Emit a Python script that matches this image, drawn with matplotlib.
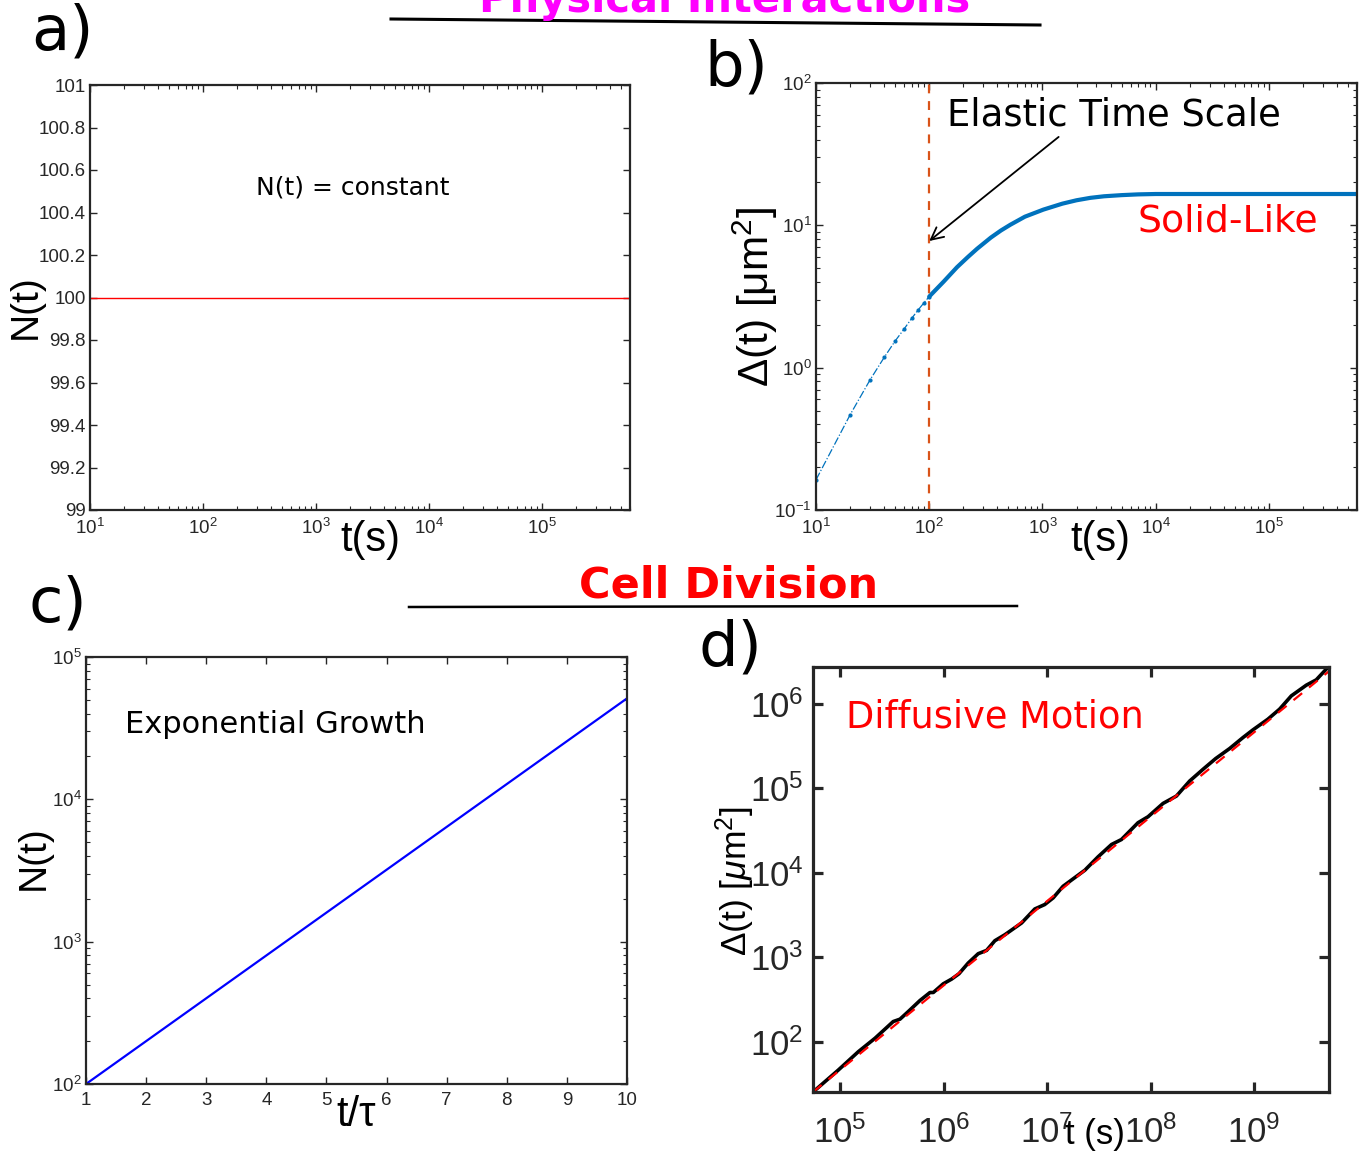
import numpy as np
import matplotlib
matplotlib.use("Agg")
import matplotlib.pyplot as plt
from matplotlib.lines import Line2D
from matplotlib.ticker import FixedLocator, FixedFormatter, NullLocator

plt.rcParams['font.family'] = ['Liberation Sans', 'DejaVu Sans']
plt.rcParams['mathtext.fontset'] = 'custom'
plt.rcParams['mathtext.rm'] = 'Liberation Sans'
plt.rcParams['mathtext.it'] = 'Liberation Sans:italic'
plt.rcParams['mathtext.default'] = 'regular'

# ---------------- data ----------------
# panel a: constant population
t_a = [10, 6e5]
N_a = [100, 100]
a_yticks = [99, 99.2, 99.4, 99.6, 99.8, 100, 100.2, 100.4, 100.6, 100.8, 101]
a_yticklabels = ['99', '99.2', '99.4', '99.6', '99.8', '100', '100.2', '100.4', '100.6', '100.8', '101']

# panel b: MSD, solid-like
t_b = [10, 20, 30, 40, 50, 60, 70, 80, 90, 100, 134, 176, 220, 265, 350, 430, 521,
       700, 1020, 1500, 2000, 2650, 3500, 5000, 7000, 10000, 100000, 600000]
msd_b = [0.163, 0.466, 0.82, 1.18, 1.54, 1.87, 2.22, 2.55, 2.86, 3.16, 4.02, 5.08,
         6.0, 6.85, 8.2, 9.2, 10.1, 11.5, 12.9, 14.2, 15.0, 15.6, 16.0, 16.3, 16.5,
         16.6, 16.6, 16.6]
t_elastic = 100

# panel c: exponential growth
t_c = [1, 2, 3, 4, 5, 6, 7, 8, 9, 10]
N_c = [100, 200, 400, 800, 1600, 3200, 6400, 12800, 25600, 51200]
c_xticks = [1, 2, 3, 4, 5, 6, 7, 8, 9, 10]

# panel d: diffusive MSD (log10 values)
log_t_d = [4.742, 4.984, 5.177, 5.338, 5.514, 5.579, 5.659, 5.772, 5.869, 5.901,
           5.997, 6.078, 6.149, 6.238, 6.335, 6.416, 6.496, 6.593, 6.754, 6.882,
           6.977, 7.059, 7.155, 7.252, 7.365, 7.493, 7.623, 7.719, 7.879, 7.976,
           8.121, 8.250, 8.378, 8.507, 8.629, 8.764, 8.893, 8.989, 9.134, 9.247,
           9.360, 9.505, 9.601, 9.723]
log_msd_d = [1.406, 1.664, 1.881, 2.040, 2.238, 2.266, 2.356, 2.487, 2.582, 2.582,
             2.685, 2.741, 2.804, 2.931, 3.042, 3.081, 3.196, 3.267, 3.406, 3.572,
             3.624, 3.703, 3.841, 3.929, 4.031, 4.190, 4.336, 4.395, 4.594, 4.665,
             4.823, 4.910, 5.088, 5.227, 5.354, 5.473, 5.603, 5.694, 5.821, 5.940,
             6.097, 6.224, 6.287, 6.447]
t_fit_d = [5.48e4, 5.3e9]
msd_fit_d = [25.3, 2.45e6]
d_xticks = [1e5, 1e6, 1e7, 1e8, 1e9]
d_yticks = [1e2, 1e3, 1e4, 1e5, 1e6]

W, H = 1367, 1151
fig = plt.figure(figsize=(W / 100, H / 100), dpi=100)

def rect(l, r, t, b):
    return [l / W, 1 - b / H, (r - l) / W, (b - t) / H]

AX = '#262626'
DV = ['DejaVu Sans']

def style_small(ax):
    for s in ax.spines.values():
        s.set_linewidth(1.6)
        s.set_color(AX)
    ax.tick_params(which='both', direction='in', top=True, right=True, colors=AX,
                   labelcolor=AX, labelsize=13.5)
    ax.tick_params(which='major', length=5, width=1.0)
    ax.tick_params(which='minor', length=3, width=0.8)

# ---------------- panel a ----------------
axa = fig.add_axes(rect(90, 630, 85, 510))
axa.plot(t_a, N_a, color='red', lw=1.0)
axa.set_xscale('log')
axa.set_xlim(10, 6e5)
axa.set_ylim(99, 101)
axa.yaxis.set_major_locator(FixedLocator(a_yticks))
axa.yaxis.set_major_formatter(FixedFormatter(a_yticklabels))
style_small(axa)
axa.tick_params(axis='x', pad=6)
axa.tick_params(axis='y', pad=3)
axa.set_xlabel('t(s)', fontsize=30)
axa.xaxis.set_label_coords(0.5185, -0.0706)
axa.xaxis.label.set_va('center')
axa.set_ylabel('N(t)', fontsize=28)
axa.yaxis.set_label_coords(-0.1185, 0.4776)
axa.yaxis.label.set_va('center')
axa.text(0.487, 0.76, 'N(t) = constant', transform=axa.transAxes, fontsize=18,
         family=DV, ha='center', va='center')

# ---------------- panel b ----------------
axb = fig.add_axes(rect(816, 1357, 83, 510))
tb = np.array(t_b)
mb = np.array(msd_b)
axb.plot(tb[tb <= 130], mb[tb <= 130], '-.', color='#0072BD', lw=0.9)
axb.plot(tb[tb <= 100], mb[tb <= 100], '.', color='#0072BD', ms=4)
axb.plot(tb[tb >= 100], mb[tb >= 100], '-', color='#0072BD', lw=3.0,
         solid_capstyle='round', solid_joinstyle='round')
axb.axvline(t_elastic, color='#D95319', lw=1.6, ls=(0, (4, 3.5)))
axb.set_xscale('log')
axb.set_yscale('log')
axb.set_xlim(10, 6e5)
axb.set_ylim(0.1, 100)
style_small(axb)
axb.tick_params(axis='x', pad=6)
axb.tick_params(axis='y', pad=3)
axb.set_xlabel('t(s)', fontsize=30)
axb.xaxis.set_label_coords(0.525, -0.0706)
axb.xaxis.label.set_va('center')
axb.set_ylabel('Δ(t) [μm$^2$]', fontsize=30.5)
axb.yaxis.set_label_coords(-0.1128, 0.499)
axb.yaxis.label.set_va('center')
axb.text(0.551, 0.925, 'Elastic Time Scale', transform=axb.transAxes, fontsize=26.6,
         family=DV, ha='center', va='center')
axb.text(0.7616, 0.6745, 'Solid-Like', transform=axb.transAxes, fontsize=27.2,
         family=DV, ha='center', va='center', color='red')
axb.annotate('', xy=(100, 7.76), xytext=(1390, 41.8),
             arrowprops=dict(arrowstyle='->', lw=1.3, color='black',
                             mutation_scale=22, shrinkA=0, shrinkB=0))

# ---------------- panel c ----------------
axc = fig.add_axes(rect(86, 627, 657, 1084))
axc.plot(t_c, N_c, color='blue', lw=1.6)
axc.set_yscale('log')
axc.set_xlim(1, 10)
axc.set_ylim(100, 1e5)
axc.xaxis.set_major_locator(FixedLocator(c_xticks))
style_small(axc)
axc.tick_params(axis='x', pad=6)
axc.tick_params(axis='y', pad=3)
axc.set_xlabel('t/τ', fontsize=30)
axc.xaxis.set_label_coords(0.5, -0.0726)
axc.xaxis.label.set_va('center')
axc.set_ylabel('N(t)', fontsize=28)
axc.yaxis.set_label_coords(-0.0963, 0.529)
axc.yaxis.label.set_va('center')
axc.text(0.35, 0.843, 'Exponential Growth', transform=axc.transAxes, fontsize=22,
         family=DV, ha='center', va='center')

# ---------------- panel d ----------------
axd = fig.add_axes(rect(813, 1329, 667, 1092))
axd.plot(10 ** np.array(log_t_d), 10 ** np.array(log_msd_d), color='black', lw=2.6)
axd.plot(t_fit_d, msd_fit_d, color='red', lw=1.6, ls=(0, (5, 4)))
axd.set_xscale('log')
axd.set_yscale('log')
axd.set_xlim(5.48e4, 5.3e9)
axd.set_ylim(25.3, 2.75e6)
axd.xaxis.set_major_locator(FixedLocator(d_xticks))
axd.yaxis.set_major_locator(FixedLocator(d_yticks))
axd.xaxis.set_minor_locator(NullLocator())
axd.yaxis.set_minor_locator(NullLocator())
for s in axd.spines.values():
    s.set_linewidth(2.3)
    s.set_color(AX)
axd.tick_params(which='major', direction='in', top=True, right=True, length=7,
                width=2.3, colors=AX, labelcolor=AX, labelsize=25)
axd.tick_params(axis='x', pad=17)
axd.tick_params(axis='y', pad=7)
axd.set_xlabel('t (s)', fontsize=25)
axd.xaxis.set_label_coords(0.5465, -0.101)
axd.xaxis.label.set_va('center')
axd.set_ylabel(r'$\Delta$(t) [$\mathit{\mu}$m$^2$]', fontsize=25.5)
axd.yaxis.set_label_coords(-0.151, 0.4965)
axd.yaxis.label.set_va('center')
axd.text(0.3527, 0.882, 'Diffusive Motion', transform=axd.transAxes, fontsize=26.5,
         family=DV, ha='center', va='center', color='red')

# ---------------- figure decorations ----------------
fig.text(725 / W, 1 - 12 / H, 'Physical Interactions', fontsize=30, family=DV,
         weight='bold', color='magenta', ha='center', va='baseline')
fig.add_artist(Line2D([391 / W, 1040 / W], [1 - 19 / H, 1 - 25 / H], color='black',
                      lw=2.2, transform=fig.transFigure))
fig.text(729 / W, 1 - 597 / H, 'Cell Division', fontsize=31, family=DV,
         weight='bold', color='red', ha='center', va='baseline')
fig.add_artist(Line2D([409 / W, 1017 / W], [1 - 607 / H, 1 - 606 / H], color='black',
                      lw=1.8, transform=fig.transFigure))

for lab, x, y in [('a)', 62, 33), ('b)', 736, 68), ('c)', 58, 604), ('d)', 730, 648)]:
    fig.text(x / W, 1 - y / H, lab, fontsize=45, family=DV, ha='center', va='center')

fig.savefig('out.png', dpi=100)
